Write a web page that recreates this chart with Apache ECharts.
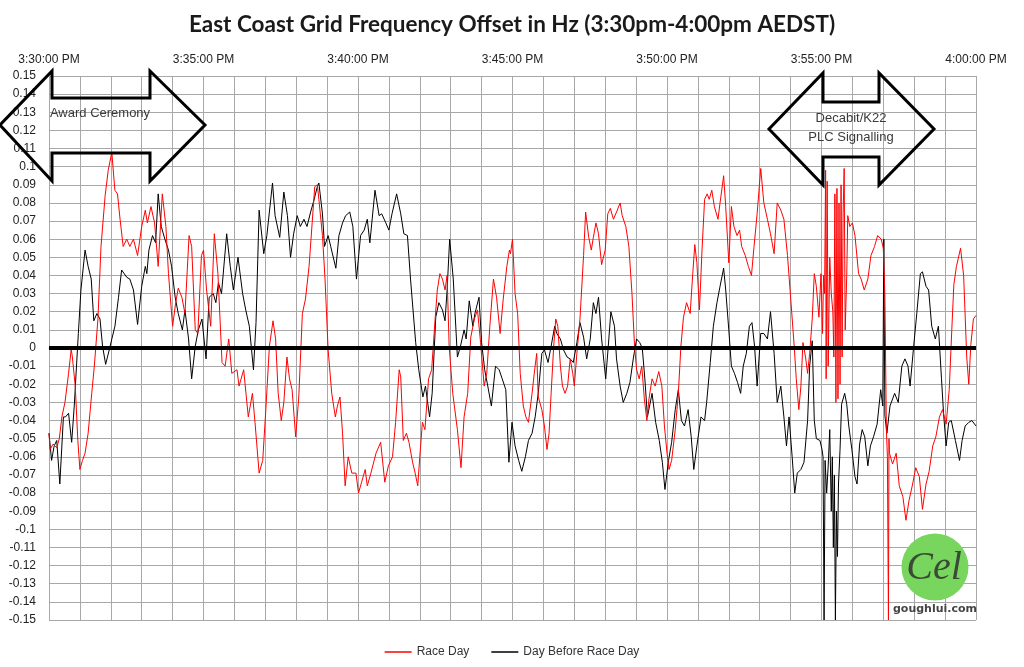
<!DOCTYPE html>
<html>
<head>
<meta charset="utf-8">
<title>East Coast Grid Frequency Offset</title>
<script src="https://cdn.jsdelivr.net/npm/echarts@6/dist/echarts.min.js"></script>
<style>
  html, body { margin: 0; padding: 0; background: #fff; }
  #chart { width: 1024px; height: 667px; }
</style>
</head>
<body>
<div id="chart"></div>
<script>
// time in seconds after 3:30:00 PM, offset in Hz
const xTickLabels = ['3:30:00 PM', '3:35:00 PM', '3:40:00 PM', '3:45:00 PM', '3:50:00 PM', '3:55:00 PM', '4:00:00 PM'];
const seriesNames = ['Race Day', 'Day Before Race Day'];

const raceDay = [
  [0,-0.047],[2,-0.056],[8,-0.053],[15,-0.055],[20,-0.05],[25,-0.038],[31,-0.030],[38,-0.014],[43,-0.001],[45,-0.004],
  [51,-0.021],[56,-0.051],[60,-0.067],[65,-0.062],[70,-0.058],[76,-0.047],[83,-0.025],[88,-0.010],[95,0.016],[101,0.056],
  [109,0.084],[115,0.098],[122,0.108],[125,0.097],[128,0.087],[133,0.085],[138,0.071],[144,0.056],[151,0.060],[157,0.056],
  [164,0.060],[172,0.051],[180,0.067],[187,0.076],[191,0.069],[198,0.078],[205,0.069],[212,0.045],[220,0.085],[227,0.067],
  [232,0.041],[240,0.012],[246,0.025],[251,0.033],[258,0.028],[264,0.019],[272,0.062],[277,0.056],[284,0.010],[289,0.008],
  [296,0.051],[300,0.054],[306,0.032],[314,0.012],[321,0.063],[328,0.041],[336,-0.008],[342,-0.010],[349,0.005],[355,-0.014],
  [365,-0.012],[369,-0.021],[378,-0.012],[387,-0.038],[395,-0.025],[400,-0.041],[408,-0.069],[415,-0.062],[421,-0.034],[428,0.001],
  [435,0.015],[440,0.005],[445,-0.025],[451,-0.040],[456,-0.030],[462,-0.005],[467,-0.017],[472,-0.023],[479,-0.049],[485,-0.027],
  [492,0.019],[498,0.027],[505,0.045],[511,0.069],[516,0.089],[521,0.090],[524,0.082],[531,0.062],[536,0.038],[542,-0.001],
  [549,-0.025],[556,-0.038],[560,-0.032],[565,-0.027],[570,-0.047],[575,-0.076],[581,-0.060],[588,-0.069],[596,-0.069],[601,-0.080],
  [607,-0.074],[614,-0.067],[618,-0.076],[625,-0.069],[635,-0.058],[644,-0.052],[652,-0.074],[659,-0.065],[667,-0.060],[673,-0.041],
  [680,-0.012],[683,-0.016],[688,-0.051],[694,-0.047],[699,-0.052],[706,-0.063],[711,-0.069],[716,-0.076],[720,-0.060],[725,-0.041],
  [730,-0.045],[737,-0.017],[743,-0.012],[750,0.017],[754,0.032],[759,0.041],[764,0.038],[769,0.032],[773,0.040],[777,0.001],
  [784,-0.025],[793,-0.045],[800,-0.066],[806,-0.038],[813,-0.025],[819,0.006],[826,0.016],[832,0.021],[838,0.003],[845,-0.021],
  [850,-0.014],[856,0.012],[863,0.038],[869,0.028],[876,0.008],[882,0.027],[889,0.045],[894,0.054],[896,0.052],[900,0.060],
  [905,0.030],[910,0.019],[915,-0.014],[921,-0.032],[926,-0.038],[931,-0.041],[938,-0.025],[943,-0.012],[947,-0.003],[950,-0.027],
  [957,-0.034],[962,-0.043],[967,-0.056],[971,-0.047],[975,-0.025],[980,0.001],[984,0.016],[988,0.012],[993,-0.010],[997,-0.021],
  [1002,-0.025],[1007,-0.021],[1012,-0.006],[1017,-0.014],[1020,-0.021],[1025,-0.003],[1031,0.016],[1038,0.051],[1042,0.075],[1048,0.061],
  [1053,0.054],[1057,0.061],[1062,0.069],[1067,0.063],[1073,0.046],[1080,0.054],[1085,0.074],[1090,0.077],[1096,0.071],[1102,0.075],
  [1109,0.080],[1113,0.073],[1120,0.067],[1126,0.056],[1132,0.030],[1137,0.001],[1141,-0.012],[1146,-0.017],[1151,-0.010],[1156,-0.028],
  [1161,-0.040],[1165,-0.028],[1171,-0.017],[1177,-0.021],[1184,-0.013],[1190,-0.021],[1195,-0.043],[1200,-0.058],[1204,-0.067],[1209,-0.062],
  [1216,-0.045],[1222,-0.025],[1227,0.001],[1232,0.017],[1238,0.025],[1245,0.019],[1250,0.041],[1254,0.057],[1258,0.047],[1263,0.021],
  [1268,0.054],[1273,0.082],[1278,0.085],[1282,0.082],[1287,0.087],[1292,0.078],[1299,0.071],[1303,0.080],[1310,0.095],[1314,0.078],
  [1320,0.047],[1325,0.078],[1330,0.067],[1336,0.062],[1341,0.065],[1345,0.056],[1352,0.051],[1358,0.045],[1364,0.040],[1369,0.056],
  [1375,0.074],[1382,0.099],[1388,0.080],[1395,0.071],[1401,0.063],[1408,0.052],[1414,0.080],[1421,0.076],[1427,0.071],[1434,0.051],
  [1440,0.028],[1447,0.001],[1451,-0.017],[1456,-0.034],[1460,-0.021],[1464,0.003],[1469,-0.005],[1473,-0.014],[1477,-0.003],[1482,0.016],
  [1486,0.041],[1490,0.034],[1495,0.017],[1499,0.041],[1502,0.008],[1504,0.040],[1506,0.030],[1508,0.098],[1509,-0.017],[1511,0.092],
  [1513,-0.010],[1516,0.050],[1519,0.030],[1522,0.020],[1524,-0.005],[1526,0.085],[1528,-0.030],[1530,0.088],[1532,-0.028],[1534,0.080],
  [1536,-0.020],[1538,0.090],[1540,-0.005],[1542,0.075],[1544,0.099],[1546,0.010],[1549,0.040],[1551,0.073],[1555,0.067],[1560,0.069],
  [1565,0.062],[1572,0.041],[1577,0.038],[1583,0.032],[1590,0.038],[1596,0.051],[1603,0.056],[1609,0.062],[1616,0.060],[1620,0.055],
  [1623,0.030],[1626,-0.045],[1628,-0.060],[1630,-0.150],[1631,-0.050],[1632,-0.058],[1638,-0.064],[1645,-0.058],[1651,-0.076],[1658,-0.082],
  [1664,-0.095],[1670,-0.084],[1677,-0.075],[1683,-0.066],[1690,-0.071],[1696,-0.089],[1703,-0.075],[1709,-0.068],[1716,-0.054],[1722,-0.049],
  [1729,-0.038],[1735,-0.034],[1742,-0.042],[1748,-0.023],[1753,0.010],[1757,0.035],[1762,0.045],[1770,0.055],[1776,0.040],[1782,-0.005],
  [1786,-0.020],[1790,0.002],[1795,0.016],[1800,0.018]
];

const dayBefore = [
  [0,-0.047],[5,-0.062],[10,-0.054],[15,-0.051],[21,-0.075],[28,-0.038],[32,-0.038],[38,-0.036],[44,-0.052],[49,-0.032],
  [57,0.008],[62,0.032],[70,0.054],[76,0.045],[82,0.038],[87,0.015],[93,0.019],[99,0.016],[104,0.001],[110,-0.009],
  [117,-0.001],[122,0.005],[128,0.012],[135,0.028],[141,0.043],[151,0.039],[157,0.038],[164,0.032],[172,0.013],[180,0.034],
  [187,0.045],[190,0.041],[194,0.054],[201,0.062],[207,0.058],[212,0.085],[218,0.067],[225,0.060],[232,0.054],[238,0.045],
  [245,0.028],[251,0.019],[259,0.010],[264,0.021],[271,0.005],[277,-0.017],[284,0.001],[290,0.010],[297,0.016],[305,-0.006],
  [311,0.028],[319,0.030],[324,0.025],[329,0.036],[335,0.030],[345,0.063],[352,0.045],[358,0.032],[367,0.050],[376,0.030],
  [382,0.021],[389,0.012],[397,-0.012],[402,0.014],[408,0.076],[417,0.052],[423,0.062],[434,0.091],[439,0.073],[448,0.061],
  [456,0.086],[463,0.073],[469,0.050],[475,0.063],[482,0.073],[488,0.067],[495,0.071],[501,0.067],[508,0.075],[514,0.081],
  [521,0.089],[524,0.091],[531,0.074],[535,0.056],[542,0.062],[547,0.056],[557,0.044],[563,0.062],[570,0.069],[576,0.073],
  [584,0.075],[590,0.067],[597,0.038],[605,0.062],[612,0.065],[618,0.071],[623,0.058],[633,0.087],[641,0.073],[646,0.074],
  [654,0.069],[660,0.065],[666,0.074],[675,0.085],[683,0.074],[689,0.063],[696,0.062],[702,0.038],[712,0.003],[718,-0.012],
  [726,-0.027],[731,-0.021],[739,-0.038],[744,-0.025],[751,0.017],[757,0.025],[764,0.021],[769,0.015],[773,0.032],[778,0.060],
  [785,0.038],[793,-0.005],[799,0.001],[806,0.010],[810,0.005],[816,0.026],[823,0.012],[827,0.019],[835,0.028],[840,0.003],
  [846,-0.012],[852,-0.021],[859,-0.032],[867,-0.010],[874,-0.012],[880,-0.017],[887,-0.023],[893,-0.063],[899,-0.041],[905,-0.054],
  [912,-0.062],[918,-0.068],[925,-0.060],[931,-0.051],[938,-0.047],[944,-0.038],[950,-0.025],[957,-0.003],[962,-0.001],[969,-0.008],
  [975,0.001],[982,0.012],[986,0.008],[993,0.005],[999,-0.001],[1006,-0.005],[1012,-0.006],[1018,-0.008],[1025,0.003],[1031,0.014],
  [1038,0.006],[1044,-0.006],[1051,0.005],[1057,0.025],[1062,0.019],[1067,0.028],[1073,0.005],[1081,-0.017],[1086,0.001],[1091,0.020],
  [1098,0.012],[1102,-0.006],[1109,-0.021],[1115,-0.030],[1122,-0.025],[1128,-0.019],[1135,-0.005],[1141,0.005],[1147,0.003],[1152,0.000],
  [1157,-0.017],[1162,-0.038],[1171,-0.025],[1178,-0.041],[1185,-0.051],[1191,-0.063],[1196,-0.078],[1203,-0.062],[1209,-0.052],[1216,-0.034],
  [1222,-0.023],[1228,-0.040],[1234,-0.043],[1241,-0.034],[1247,-0.049],[1252,-0.067],[1258,-0.054],[1266,-0.038],[1273,-0.040],[1277,-0.030],
  [1284,-0.008],[1290,0.012],[1297,0.025],[1303,0.034],[1310,0.044],[1314,0.032],[1320,0.010],[1325,-0.010],[1331,-0.014],[1337,-0.019],
  [1343,-0.025],[1348,-0.010],[1354,-0.003],[1360,0.012],[1365,0.014],[1370,0.001],[1375,-0.021],[1382,0.008],[1388,0.008],[1395,0.005],
  [1401,0.020],[1408,-0.003],[1414,-0.030],[1421,-0.021],[1427,-0.038],[1432,-0.054],[1437,-0.038],[1443,-0.060],[1448,-0.080],[1453,-0.069],
  [1460,-0.067],[1466,-0.063],[1473,-0.040],[1477,-0.010],[1482,0.004],[1486,-0.040],[1490,-0.050],[1497,-0.051],[1501,-0.056],[1503,-0.060],
  [1505,-0.150],[1507,-0.062],[1510,-0.080],[1513,-0.065],[1516,-0.045],[1519,-0.090],[1521,-0.060],[1523,-0.110],[1525,-0.070],[1527,-0.150],
  [1529,-0.090],[1531,-0.115],[1533,-0.075],[1536,-0.056],[1539,-0.031],[1545,-0.025],[1549,-0.031],[1553,-0.043],[1559,-0.056],[1565,-0.071],
  [1569,-0.075],[1574,-0.053],[1579,-0.045],[1584,-0.049],[1590,-0.065],[1595,-0.054],[1601,-0.049],[1608,-0.042],[1615,-0.023],[1619,-0.032],
  [1621,0.060],[1623,-0.037],[1627,-0.047],[1633,-0.032],[1642,-0.025],[1649,-0.030],[1656,-0.010],[1662,-0.006],[1668,-0.010],[1672,-0.021],
  [1679,0.001],[1685,0.019],[1692,0.041],[1696,0.042],[1703,0.034],[1708,0.032],[1714,0.012],[1721,0.005],[1727,0.012],[1733,-0.017],
  [1737,-0.036],[1742,-0.054],[1747,-0.041],[1752,-0.040],[1760,-0.051],[1768,-0.062],[1773,-0.051],[1779,-0.043],[1786,-0.041],[1792,-0.040],
  [1800,-0.043]
];

const FONT = 'Liberation Sans';
const gridColor = '#a8a8a8';

// double-headed block arrow outline
function arrow(tip1, hb1, hb2, tip2, yMid, yOut1, yIn1, yIn2, yOut2) {
  return [[tip1, yMid], [hb1, yOut1], [hb1, yIn1], [hb2, yIn1], [hb2, yOut1], [tip2, yMid],
          [hb2, yOut2], [hb2, yIn2], [hb1, yIn2], [hb1, yOut2]];
}

const chart = echarts.init(document.getElementById('chart'), null, { renderer: 'canvas' });

const option = {
  backgroundColor: '#fff',
  animation: false,
  title: {
    text: 'East Coast Grid Frequency Offset in Hz (3:30pm-4:00pm AEDST)',
    left: 'center',
    top: 8,
    textStyle: { fontFamily: 'Lato', fontWeight: 'bold', fontSize: 22.5, color: '#1a1a1a' }
  },
  legend: {
    data: seriesNames,
    left: 'center',
    top: 641,
    icon: 'rect',
    itemWidth: 27,
    itemHeight: 1.5,
    itemGap: 22,
    textStyle: { fontFamily: FONT, fontSize: 12, color: '#333' }
  },
  grid: { left: 49, right: 48, top: 76, bottom: 47 },
  xAxis: {
    type: 'value',
    position: 'top',
    min: 0,
    max: 1800,
    interval: 300,
    axisLine: { show: true, lineStyle: { color: gridColor } },
    axisTick: { show: false },
    axisLabel: {
      margin: 10,
      fontFamily: FONT,
      fontSize: 12,
      color: '#222',
      formatter: v => xTickLabels[Math.round(v / 300)]
    },
    splitLine: { show: true, lineStyle: { color: gridColor, width: 1 } },
    minorTick: { show: false, splitNumber: 5 },
    minorSplitLine: { show: true, lineStyle: { color: gridColor, width: 1 } }
  },
  yAxis: {
    type: 'value',
    min: -0.15,
    max: 0.15,
    interval: 0.01,
    axisLine: { show: true, lineStyle: { color: gridColor } },
    axisTick: { show: false },
    axisLabel: {
      margin: 13,
      fontFamily: FONT,
      fontSize: 12,
      color: '#222',
      formatter: v => String(parseFloat(v.toFixed(2)))
    },
    splitLine: { show: true, lineStyle: { color: gridColor, width: 1 } }
  },
  series: [
    {
      name: seriesNames[0],
      type: 'line',
      data: raceDay,
      showSymbol: false,
      symbol: 'none',
      lineStyle: { color: '#ff0000', width: 1 },
      itemStyle: { color: '#ff0000' },
      z: 3
    },
    {
      name: seriesNames[1],
      type: 'line',
      data: dayBefore,
      showSymbol: false,
      symbol: 'none',
      lineStyle: { color: '#000000', width: 1 },
      itemStyle: { color: '#000000' },
      z: 2,
      markLine: {
        silent: true,
        symbol: 'none',
        label: { show: false },
        lineStyle: { color: '#000', width: 4, type: 'solid' },
        data: [{ yAxis: 0 }]
      }
    }
  ],
  graphic: [
    {
      type: 'polygon',
      z: 100,
      shape: { points: arrow(0, 52, 150, 205, 125, 71, 98, 153, 181) },
      style: { fill: 'none', stroke: '#000', lineWidth: 3, lineJoin: 'miter' }
    },
    {
      type: 'text',
      z: 101,
      x: 100, y: 113,
      style: { text: 'Award Ceremony', align: 'center', verticalAlign: 'middle',
               font: '13px "Liberation Sans"', fill: '#3a3a3a' }
    },
    {
      type: 'polygon',
      z: 100,
      shape: { points: arrow(769, 823, 879, 934, 129, 73, 102, 157, 185) },
      style: { fill: 'none', stroke: '#000', lineWidth: 3, lineJoin: 'miter' }
    },
    {
      type: 'text',
      z: 101,
      x: 851, y: 118,
      style: { text: 'Decabit/K22', align: 'center', verticalAlign: 'middle',
               font: '13px "Liberation Sans"', fill: '#3a3a3a' }
    },
    {
      type: 'text',
      z: 101,
      x: 851, y: 137,
      style: { text: 'PLC Signalling', align: 'center', verticalAlign: 'middle',
               font: '13px "Liberation Sans"', fill: '#3a3a3a' }
    },
    {
      type: 'circle',
      z: 100,
      shape: { cx: 935, cy: 567, r: 33.5 },
      style: { fill: '#78d65e' }
    },
    {
      type: 'text',
      z: 101,
      x: 934, y: 568,
      style: { text: 'Cel', align: 'center', verticalAlign: 'middle',
               font: 'italic 40px "Liberation Serif"', fill: '#3a4a34' }
    },
    {
      type: 'text',
      z: 101,
      x: 935, y: 609,
      style: { text: 'goughlui.com', align: 'center', verticalAlign: 'middle',
               font: 'bold 11px "DejaVu Sans"', fill: '#444' }
    }
  ]
};

chart.setOption(option);
</script>
</body>
</html>
